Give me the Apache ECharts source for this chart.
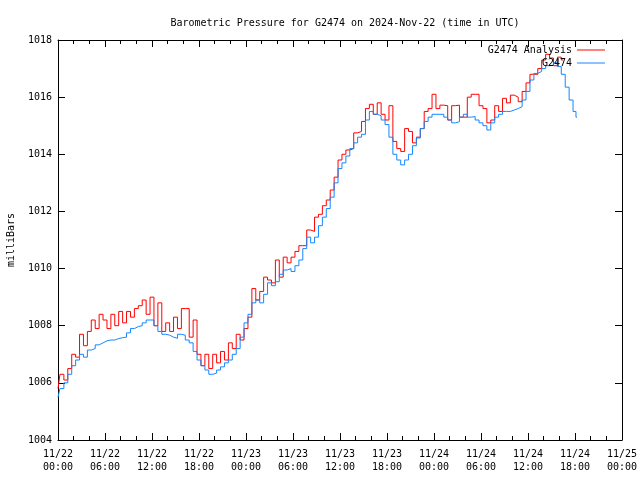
<!DOCTYPE html>
<html><head><meta charset="utf-8">
<script src="https://cdn.jsdelivr.net/npm/echarts@6/dist/echarts.min.js"></script>
<style>html,body{margin:0;padding:0;background:#fff}#c{width:640px;height:480px}</style>
</head><body><div id="c"></div>
<script>
var titleText = 'Barometric Pressure for G2474 on 2024-Nov-22 (time in UTC)';
var seriesNames = ['G2474 Analysis', 'G2474'];
var xTickLabels = ['11/22\n00:00','11/22\n06:00','11/22\n12:00','11/22\n18:00','11/23\n00:00','11/23\n06:00','11/23\n12:00','11/23\n18:00','11/24\n00:00','11/24\n06:00','11/24\n12:00','11/24\n18:00','11/25\n00:00'];
var yTicks = [1004, 1006, 1008, 1010, 1012, 1014, 1016, 1018];

// hours since 11/22 00:00 UTC
var analysisHours = [0,0.5,1,1.5,2,2.5,3,3.5,4,4.5,5,5.5,6,6.5,7,7.5,8,8.5,9,9.5,10,10.5,11,11.5,12,12.5,13,13.5,14,14.5,15,15.5,16,16.5,17,17.5,18,18.5,19,19.5,20,20.5,21,21.5,22,22.5,23,23.5,24,24.5,25,25.5,26,26.5,27,27.5,28,28.5,29,29.5,30,30.5,31,31.5,32,32.5,33,33.5,34,34.5,35,35.5,36,36.5,37,37.5,38,38.5,39,39.5,40,40.5,41,41.5,42,42.5,43,43.5,44,44.5,45,45.5,46,46.5,47,47.5,48,48.5,49,49.5,50,50.5,51,51.5,52,52.5,53,53.5,54,54.5,55,55.5,56,56.5,57,57.5,58,58.5,59,59.5,60,60.5,61,61.5,62,62.5,63,63.5,64,64.5];
var analysisValues = [1005.8,1006.3,1006.1,1006.5,1007.0,1006.9,1007.7,1007.3,1007.8,1008.2,1007.9,1008.4,1008.2,1007.9,1008.4,1008.0,1008.5,1008.1,1008.5,1008.3,1008.6,1008.7,1008.9,1008.4,1009.0,1008.0,1008.8,1007.8,1008.1,1007.8,1008.3,1007.9,1008.6,1008.6,1007.6,1008.2,1007.0,1006.6,1007.0,1006.5,1007.0,1006.7,1007.1,1006.8,1007.4,1007.2,1007.7,1007.5,1007.9,1008.3,1009.3,1008.9,1009.2,1009.7,1009.6,1009.5,1010.3,1009.7,1010.4,1010.2,1010.4,1010.6,1010.8,1010.8,1011.35,1011.3,1011.8,1011.9,1012.2,1012.4,1012.75,1013.2,1013.8,1014.0,1014.15,1014.2,1014.75,1014.8,1015.15,1015.6,1015.75,1015.4,1015.8,1015.4,1015.2,1015.7,1014.45,1014.2,1014.1,1014.9,1014.8,1014.4,1014.6,1014.9,1015.5,1015.6,1016.1,1015.6,1015.72,1015.7,1015.2,1015.7,1015.72,1015.3,1015.3,1016.0,1016.1,1016.1,1015.7,1015.6,1015.1,1015.2,1015.7,1015.5,1015.96,1015.8,1016.07,1016.0,1015.84,1016.2,1016.5,1016.8,1016.8,1017.0,1017.3,1017.5,1017.37,1017.1,1017.4,1017.3];

var stationHours = [0,0.5,1,1.5,2,2.5,3,3.5,4,4.5,5,5.5,6,6.5,7,7.5,8,8.5,9,9.5,10,10.5,11,11.5,12,12.5,13,13.5,14,14.5,15,15.5,16,16.5,17,17.5,18,18.5,19,19.5,20,20.5,21,21.5,22,22.5,23,23.5,24,24.5,25,25.5,26,26.5,27,27.5,28,28.5,29,29.5,30,30.5,31,31.5,32,32.5,33,33.5,34,34.5,35,35.5,36,36.5,37,37.5,38,38.5,39,39.5,40,40.5,41,41.5,42,42.5,43,43.5,44,44.5,45,45.5,46,46.5,47,47.5,48,48.5,49,49.5,50,50.5,51,51.5,52,52.5,53,53.5,54,54.5,55,55.5,56,56.5,57,57.5,58,58.5,59,59.5,60,60.5,61,61.5,62,62.5,63,63.5,64,64.5,65,65.5,66,66.25];
var stationValues = [1005.5,1005.8,1006.0,1006.3,1006.6,1006.8,1007.0,1006.9,1007.15,1007.2,1007.33,1007.4,1007.47,1007.5,1007.5,1007.55,1007.58,1007.6,1007.75,1007.9,1007.97,1008.0,1008.1,1008.2,1008.2,1008.0,1007.8,1007.7,1007.67,1007.6,1007.56,1007.7,1007.67,1007.5,1007.4,1007.1,1006.8,1006.6,1006.45,1006.3,1006.34,1006.45,1006.56,1006.7,1006.8,1007.0,1007.2,1007.6,1008.1,1008.4,1008.8,1008.9,1008.8,1009.1,1009.5,1009.4,1009.54,1009.8,1009.95,1010.0,1009.9,1010.1,1010.3,1010.7,1011.1,1010.9,1011.1,1011.5,1011.8,1012.1,1012.5,1013.0,1013.5,1013.7,1013.94,1014.2,1014.4,1014.6,1014.7,1015.2,1015.5,1015.4,1015.35,1015.2,1015.04,1014.6,1014.0,1013.8,1013.63,1013.8,1014.0,1014.3,1014.57,1014.9,1015.15,1015.3,1015.4,1015.4,1015.4,1015.3,1015.2,1015.1,1015.14,1015.3,1015.4,1015.3,1015.32,1015.2,1015.1,1015.0,1014.85,1015.1,1015.3,1015.4,1015.5,1015.5,1015.55,1015.6,1015.67,1015.9,1016.2,1016.6,1016.83,1016.9,1017.0,1017.1,1017.12,1017.2,1017.07,1016.8,1016.35,1015.9,1015.5,1015.3];

function pairs(hs, vs){ return hs.map(function(h,i){ return [h, vs[i]]; }); }

var FONT = 'DejaVu Sans Mono';
var chart = echarts.init(document.getElementById('c'), null, {renderer:'canvas'});
function xAxisDef(pos, showLabels){
  return {
    type:'value', position:pos, min:0, max:72, interval:6,
    axisLine:{show:true, onZero:false, lineStyle:{color:'#000', width:1}},
    axisTick:{show:true, inside:true, length:7, lineStyle:{color:'#000'}},
    minorTick:{show:true, splitNumber:3, length:4, lineStyle:{color:'#000'}},
    splitLine:{show:false},
    axisLabel:{show:showLabels, color:'#000', fontFamily:FONT, fontSize:10, lineHeight:13, margin:8,
      formatter:function(v){ var i = Math.round(v/6); return xTickLabels[i] || ''; }}
  };
}
function yAxisDef(pos, showLabels){
  return {
    type:'value', position:pos, min:yTicks[0], max:yTicks[yTicks.length-1], interval:2,
    axisLine:{show:true, onZero:false, lineStyle:{color:'#000', width:1}},
    axisTick:{show:true, inside:true, length:7, lineStyle:{color:'#000'}},
    splitLine:{show:false},
    axisLabel:{show:showLabels, color:'#000', fontFamily:FONT, fontSize:10, margin:6,
      formatter:function(v){ return String(v); }},
    name: showLabels ? 'milliBars' : '', nameLocation:'middle', nameGap:42, nameRotate:90,
    nameTextStyle:{color:'#000', fontFamily:FONT, fontSize:10}
  };
}
chart.setOption({
  animation:false,
  backgroundColor:'#fff',
  title:{text:titleText, left:340, textAlign:'center', top:13,
    textStyle:{color:'#000', fontFamily:FONT, fontSize:10, fontWeight:'normal'}},
  grid:{left:58, right:18, top:40, bottom:40, show:false, containLabel:false, outerBoundsMode:'none'},
  legend:[
    {data:[{name:seriesNames[0], icon:'rect'}], right:30, top:40, align:'right', itemWidth:28, itemHeight:1, itemGap:0,
      textStyle:{color:'#000', fontFamily:FONT, fontSize:10}},
    {data:[{name:seriesNames[1], icon:'rect'}], right:30, top:53, align:'right', itemWidth:28, itemHeight:1, itemGap:0,
      textStyle:{color:'#000', fontFamily:FONT, fontSize:10}}
  ],
  xAxis:[xAxisDef('bottom', true), xAxisDef('top', false)],
  yAxis:[yAxisDef('left', true), yAxisDef('right', false)],
  series:[
    {name:seriesNames[0], type:'line', symbol:'none', step:'middle', color:'#ff0000',
      lineStyle:{width:1, color:'#ff0000'}, data:pairs(analysisHours, analysisValues)},
    {name:seriesNames[1], type:'line', symbol:'none', step:'middle', color:'#1487ff',
      lineStyle:{width:1, color:'#1487ff'}, data:pairs(stationHours, stationValues)}
  ]
});
</script></body></html>
